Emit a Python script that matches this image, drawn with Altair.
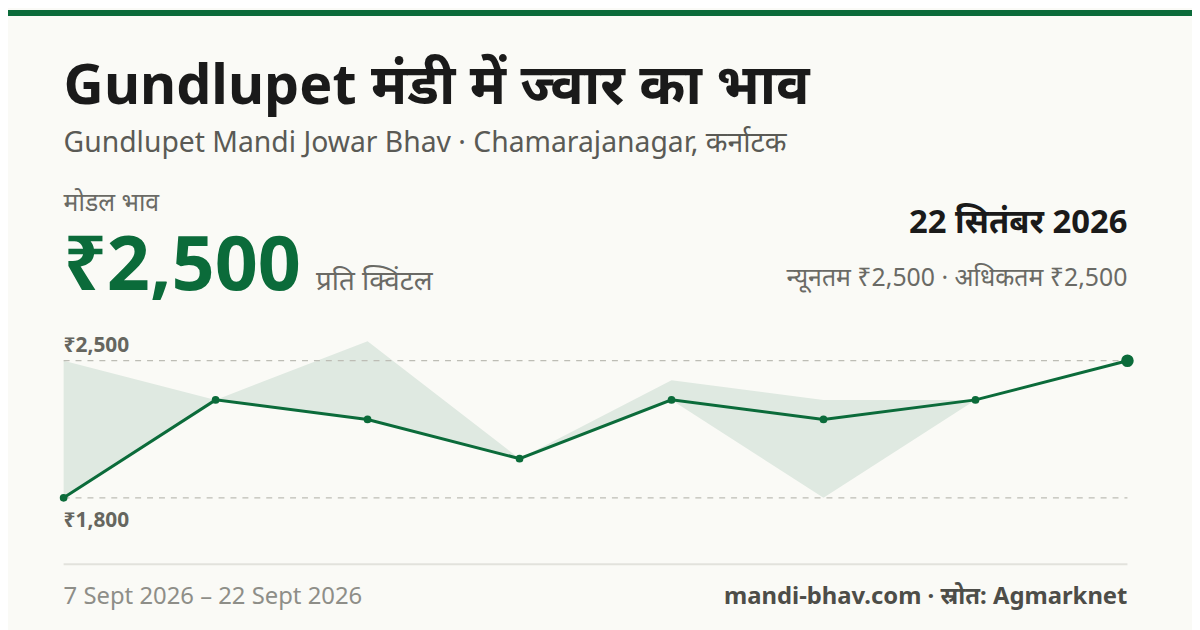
import altair as alt
import pandas as pd

# data
dates = ["2026-09-07", "2026-09-09", "2026-09-11", "2026-09-13",
         "2026-09-15", "2026-09-17", "2026-09-19", "2026-09-22"]
modal_price = [1800, 2300, 2200, 2000, 2300, 2200, 2300, 2500]
min_price = [1800, 2300, 2200, 2000, 2300, 1800, 2300, 2500]
max_price = [2500, 2300, 2600, 2000, 2400, 2300, 2300, 2500]
grid_values = [1800, 2500]

GREEN = "#0b6b3a"
BAND = "#dfe9e1"
BG = "#fafaf6"
FONT = "Noto Sans"

W, H = 1192, 622  # page has 8px margin, so everything is shifted by -8

df = pd.DataFrame({"date": dates, "modal": modal_price, "lo": min_price, "hi": max_price})
df_last = df.tail(1)
grid_df = pd.DataFrame({"v": grid_values})

xscale = alt.Scale(type="point", domain=dates, range=[56, 1127], padding=0)
yscale = alt.Scale(domain=[1800, 2500], range=[491, 353], zero=False)

base = alt.Chart(df)

band = base.mark_area(color=BAND, opacity=1).encode(
    x=alt.X("date:O", scale=xscale, axis=None),
    y=alt.Y("lo:Q", scale=yscale, axis=None),
    y2="hi:Q",
)

grid = alt.Chart(grid_df).mark_rule(color="#bdbdb5", strokeDash=[6, 6], strokeWidth=1.2).encode(
    y=alt.Y("v:Q", scale=yscale, axis=None),
    x=alt.value(56),
    x2=alt.value(1127),
)

line = base.mark_line(color=GREEN, strokeWidth=3).encode(
    x=alt.X("date:O", scale=xscale, axis=None),
    y=alt.Y("modal:Q", scale=yscale, axis=None),
)

dots = base.mark_circle(color=GREEN, opacity=1, size=60).encode(
    x=alt.X("date:O", scale=xscale, axis=None),
    y=alt.Y("modal:Q", scale=yscale, axis=None),
)

last_dot = alt.Chart(df_last).mark_circle(color=GREEN, opacity=1, size=160).encode(
    x=alt.X("date:O", scale=xscale, axis=None),
    y=alt.Y("modal:Q", scale=yscale, axis=None),
)


def label(text, x, y, size, color, weight="normal", align="left"):
    return alt.Chart(pd.DataFrame({"t": [text]})).mark_text(
        font=FONT, fontSize=size, fontWeight=weight, color=color,
        align=align, baseline="alphabetic",
    ).encode(text="t:N", x=alt.value(x), y=alt.value(y))


top_bar = alt.Chart(pd.DataFrame({"a": [0]})).mark_rect(color=GREEN).encode(
    x=alt.value(0), x2=alt.value(W), y=alt.value(0), y2=alt.value(6)
)

footer_rule = alt.Chart(pd.DataFrame({"a": [0]})).mark_rule(color="#e2e2dc", strokeWidth=2).encode(
    x=alt.value(56), x2=alt.value(1127), y=alt.value(558)
)

texts = [
    label("Gundlupet मंडी में ज्वार का भाव", 56, 95, 56, "#1a1a1a", "bold"),
    label("Gundlupet Mandi Jowar Bhav · Chamarajanagar, कर्नाटक", 56, 143, 28.5, "#5a5a55"),
    label("मोडल भाव", 56, 202, 25, "#6a6a65"),
    label("₹2,500", 56, 282, 76, GREEN, "bold"),
    label("प्रति क्विंटल", 310, 282, 28, "#6a6a65"),
    label("22 सितंबर 2026", 1127, 224, 33, "#1a1a1a", "bold", "right"),
    label("न्यूनतम ₹2,500 · अधिकतम ₹2,500", 1127, 278, 25, "#6a6a65", "normal", "right"),
    label("₹2,500", 56, 344, 21, "#66665f", "bold"),
    label("₹1,800", 56, 520, 21, "#66665f", "bold"),
    label("7 Sept 2026 – 22 Sept 2026", 56, 598, 24, "#8e8e88"),
    label("mandi-bhav.com · स्रोत: Agmarknet", 1127, 598, 24, "#4d4d48", "bold", "right"),
]

chart = alt.layer(
    top_bar, band, grid, line, dots, last_dot, footer_rule, *texts
).properties(
    width=W, height=H, autosize="none", padding=0, background=BG,
).configure_view(stroke=None)

chart.save("out.html", embed_options={"renderer": "svg", "actions": False})
